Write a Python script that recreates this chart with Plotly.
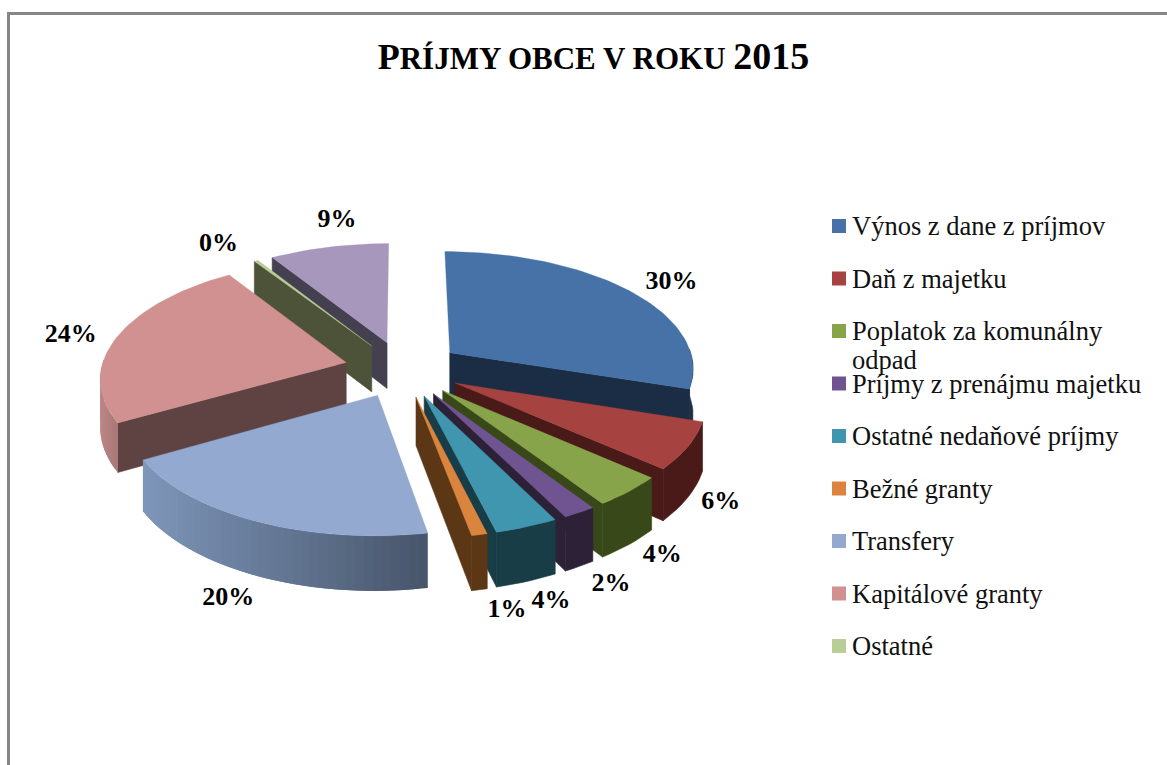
import math
import plotly.graph_objects as go

TITLE = ("<span style='font-size:36px'>P</span>RÍJMY OBCE V ROKU "
         "<span style='font-size:38px'>2015</span>")
categories = ["Výnos z dane z príjmov", "Daň z majetku", "Poplatok za komunálny<br>odpad",
              "Príjmy z prenájmu majetku", "Ostatné nedaňové príjmy", "Bežné granty",
              "Transfery", "Kapitálové granty", "Ostatné", ""]
values = [30, 6.4, 4.2, 1.9, 3.6, 0.9, 19.8, 23.9, 0.3, 9.0]

top_colors = ["#4672A8", "#A64340", "#87A44A", "#6F5491", "#3F96AE", "#DB843D",
              "#93A9CF", "#D09190", "#B9CD96", "#A797BC"]
cut_colors = ["#1A2D45", "#4A1A18", "#384819", "#2D2138", "#183D47", "#5C3716",
              "#47556A", "#5F4343", "#4C5338", "#45404F"]
wall_left = ["#1A2D45", "#4A1A18", "#384819", "#2D2138", "#183D47", "#5C3716",
             "#7E96BA", "#BC8786", "#4C5338", "#45404F"]
wall_right = ["#1A2D45", "#4A1A18", "#384819", "#2D2138", "#183D47", "#5C3716",
              "#47556A", "#A87776", "#4C5338", "#45404F"]
label_nudge = [(21, -1), (0, -4), (6, -4), (10, 0), (9, 0), (18, -1), (-9, 3), (-18, 3), (-24, -6), (15, -16)]
draw_order = [9, 8, 7, 0, 1, 2, 3, 4, 5, 6]

CX, CY, A, B, K, H, EXPLODE = 403, 369, 245, 117, 0.12, 47, 0.24
total = sum(values)
edges = [0]
for v in values:
    edges.append(edges[-1] + v)
angles = [(edges[i] * 2 * math.pi / total, edges[i + 1] * 2 * math.pi / total) for i in range(len(values))]


def project(slice_i, r, theta, t=0.0):
    a0, a1 = angles[slice_i]
    mid = (a0 + a1) / 2
    u = EXPLODE * math.sin(mid) + r * math.sin(theta)
    v = EXPLODE * math.cos(mid) + r * math.cos(theta)
    s = 1 / (1 + K * v)
    return CX + A * u * s, CY - B * v * s + H * t * s


def mix(c1, c2, f):
    p = [int(c1[j:j + 2], 16) for j in (1, 3, 5)]
    q = [int(c2[j:j + 2], 16) for j in (1, 3, 5)]
    return "#%02x%02x%02x" % tuple(round(p[j] + (q[j] - p[j]) * f) for j in range(3))


fig = go.Figure()


def poly(pts, color, lw=0.6):
    xs = [p[0] for p in pts] + [pts[0][0]]
    ys = [p[1] for p in pts] + [pts[0][1]]
    fig.add_trace(go.Scatter(x=xs, y=ys, mode="lines", fill="toself", fillcolor=color,
                             line=dict(color=color, width=lw), hoverinfo="skip", showlegend=False))


for i in draw_order:
    a0, a1 = angles[i]
    # only the cut faces turned towards the viewer
    for th, seen in ((a0, math.sin(a0) < -1e-6), (a1, math.sin(a1) > 1e-6)):
        if seen:
            poly([project(i, 0, th), project(i, 1, th), project(i, 1, th, 1), project(i, 0, th, 1)], cut_colors[i])
    n = max(4, int(values[i] * 2))
    all_ths = [a0 + (a1 - a0) * j / n for j in range(n + 1)]
    ths = [th for th in all_ths if math.cos(th) < 0.05]
    n = len(ths) - 1
    if n >= 1:
        if wall_left[i] == wall_right[i]:
            poly([project(i, 1, th) for th in ths] + [project(i, 1, th, 1) for th in reversed(ths)], wall_left[i])
        else:
            xs_arc = [project(i, 1, th)[0] for th in ths]
            lo, hi = min(xs_arc), max(xs_arc)
            for j in range(n):
                f = ((xs_arc[j] + xs_arc[j + 1]) / 2 - lo) / max(hi - lo, 1)
                seg = ths[j:min(j + 2, n) + 1]
                poly([project(i, 1, th) for th in seg] + [project(i, 1, th, 1) for th in reversed(seg)],
                     mix(wall_left[i], wall_right[i], f), lw=0)
    m = max(3, int(values[i] * 2))
    arc = [project(i, 1, a0 + (a1 - a0) * j / m) for j in range(m + 1)]
    poly([project(i, 0, a0)] + arc, top_colors[i], lw=0.3)

# data labels
lab_x, lab_y, lab_t = [], [], []
for i, v in enumerate(values):
    a0, a1 = angles[i]
    mid = (a0 + a1) / 2
    front = math.cos(mid) < 0
    x, y = project(i, 1.13, mid, 1 if front else 0)
    lab_x.append(x + label_nudge[i][0])
    lab_y.append(y + label_nudge[i][1])
    lab_t.append(f"{round(v)}%")
fig.add_trace(go.Scatter(x=lab_x, y=lab_y, text=lab_t, mode="text", textposition="middle center",
                         textfont=dict(family="Liberation Serif", size=26, color="black", weight="bold"),
                         hoverinfo="skip", showlegend=False))

# legend
LEG_X, LEG_Y0, LEG_DY, LEG_LINE = 839, 226, 52.5, 29
leg_n = [i for i, c in enumerate(categories) if c]
fig.add_trace(go.Scatter(x=[LEG_X] * len(leg_n), y=[LEG_Y0 + LEG_DY * i for i in leg_n], mode="markers",
                         marker=dict(symbol="square", size=14, color=[top_colors[i] for i in leg_n]),
                         hoverinfo="skip", showlegend=False))
annotations = []
for i in leg_n:
    for j, line in enumerate(categories[i].split("<br>")):
        annotations.append(dict(x=LEG_X + 12, y=LEG_Y0 + LEG_DY * i + LEG_LINE * j, xref="x", yref="y", text=line,
                                showarrow=False, xanchor="left", yanchor="middle", align="left", borderpad=0,
                                font=dict(family="Liberation Serif", size=26.5, color="#111111")))

fig.update_layout(
    width=1167, height=765, margin=dict(l=0, r=0, t=0, b=0, autoexpand=False),
    paper_bgcolor="white", plot_bgcolor="white", showlegend=False,
    xaxis=dict(range=[0, 1167], visible=False, fixedrange=True),
    yaxis=dict(range=[765, 0], visible=False, fixedrange=True),
    title=dict(text=TITLE, x=593.5 / 1167, xanchor="center", y=1 - 58 / 765, yanchor="middle",
               font=dict(family="Liberation Serif", size=31, color="black", weight="bold")),
    annotations=annotations,
    shapes=[dict(type="rect", x0=8.5, y0=13.5, x1=1300, y1=900, xref="x", yref="y",
                 line=dict(color="#868686", width=3), fillcolor="rgba(0,0,0,0)")],
)
fig.write_html("out.html", config=dict(displayModeBar=False),
               post_script="document.body.style.margin='0';")
